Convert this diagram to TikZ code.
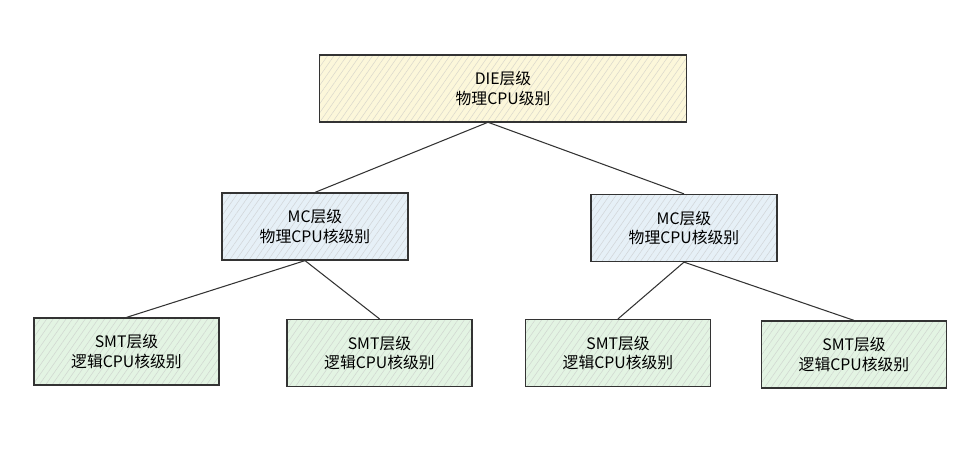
\documentclass[tikz,border=0pt]{standalone}
\usepackage{fontspec}
\setmainfont{Noto Sans CJK SC}
\usepackage{tikz}
\usetikzlibrary{positioning, patterns.meta}
\definecolor{dieyellow}{HTML}{FCF7DA}
\definecolor{mcblue}{HTML}{E6F0F7}
\definecolor{smtgreen}{HTML}{E3F4E3}
\definecolor{boxline}{HTML}{333333}
\tikzset{
	levelbox/.style={draw=boxline, line width=0.7pt, align=center, font=\small,
		minimum height=1.34cm, inner sep=2pt}
}
\tikzset{
	hatched/.style={preaction={fill=#1},
		pattern={Lines[angle=55,distance=3pt,line width=0.3pt]}, pattern color=#1!60!gray!70}
}
\tikzset{
	link/.style={draw=boxline, line width=0.6pt}
}

\begin{document}
\begin{tikzpicture}
      \useasboundingbox (0,0) rectangle (19.44,9);
      \node[levelbox, hatched=dieyellow, minimum width=7.34cm] (die) at (10.06,7.23) {DIE层级\\物理CPU级别};
      \node[levelbox, hatched=mcblue, minimum width=3.72cm] (mcl) at (6.30,4.47) {MC层级\\物理CPU核级别};
      \node[levelbox, hatched=mcblue, minimum width=3.72cm] (mcr) at (13.68,4.44) {MC层级\\物理CPU核级别};
      \foreach \n/\x/\y in {smta/2.53/1.97, smtb/7.59/1.94, smtc/12.36/1.94, smtd/17.08/1.91}
        \node[levelbox, hatched=smtgreen, minimum width=3.70cm] (\n) at (\x,\y) {SMT层级\\逻辑CPU核级别};
      \draw[link] ([xshift=-0.3cm]die.south) -- (mcl.north);
      \draw[link] ([xshift=-0.3cm]die.south) -- (mcr.north);
      \draw[link] ([xshift=-0.2cm]mcl.south) -- (smta.north);
      \draw[link] ([xshift=-0.2cm]mcl.south) -- (smtb.north);
      \draw[link] (mcr.south) -- (smtc.north);
      \draw[link] (mcr.south) -- (smtd.north);
    \end{tikzpicture}
\end{document}
